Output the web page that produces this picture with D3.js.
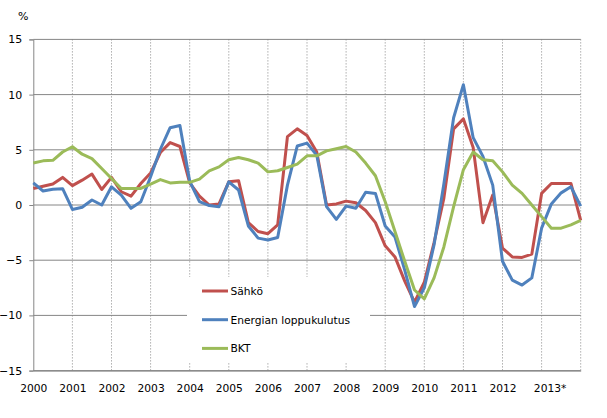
<!DOCTYPE html>
<html>
<head>
<meta charset="utf-8">
<script src="https://cdn.jsdelivr.net/npm/d3@7"></script>
<style>
  body { margin: 0; background: #fff; }
  svg { font-family: "DejaVu Sans", Verdana, sans-serif; }
</style>
</head>
<body>
<svg id="chart" width="607" height="418"></svg>
<script>
// quarterly values 2000Q1 .. 2014Q1, % change
const sahko = [1.5, 1.7, 1.9, 2.5, 1.75, 2.25, 2.8, 1.4, 2.5, 1.2, 0.8, 1.95, 2.9, 4.75, 5.65, 5.3,
  2.0, 0.8, 0.0, 0.1, 2.1, 2.2, -1.6, -2.4, -2.6, -1.8, 6.2, 6.9, 6.3, 4.8, 0.0, 0.1,
  0.35, 0.2, -0.5, -1.6, -3.7, -4.7, -6.9, -8.8, -7.0, -3.4, 0.6, 6.9, 7.8, 5.2, -1.6, 0.9,
  -3.9, -4.7, -4.75, -4.45, 1.05, 1.95, 1.95, 1.95, -1.4];
const energia = [2.0, 1.27, 1.42, 1.48, -0.4, -0.2, 0.45, 0.0, 1.65, 0.9, -0.3, 0.3, 2.56, 5.05, 7.0, 7.2,
  2.15, 0.3, -0.05, -0.15, 2.1, 1.36, -1.9, -3.0, -3.17, -2.95, 1.8, 5.34, 5.6, 4.5, -0.15, -1.3,
  -0.1, -0.3, 1.15, 1.05, -1.9, -2.9, -5.9, -9.2, -7.5, -3.6, 1.9, 7.9, 10.9, 6.1, 4.4, 1.8,
  -5.1, -6.8, -7.25, -6.6, -2.1, 0.1, 1.1, 1.65, -0.1];
const bkt = [3.8, 4.0, 4.05, 4.8, 5.28, 4.6, 4.2, 3.3, 2.4, 1.5, 1.5, 1.5, 1.9, 2.3, 2.0, 2.05,
  2.05, 2.35, 3.1, 3.45, 4.1, 4.3, 4.1, 3.8, 3.0, 3.1, 3.4, 3.7, 4.45, 4.45, 4.9, 5.1,
  5.3, 4.8, 3.8, 2.65, 0.3, -2.4, -5.1, -7.7, -8.5, -6.6, -3.8, -0.15, 3.2, 4.8, 4.1, 4.0,
  3.0, 1.8, 1.05, 0.0, -1.05, -2.1, -2.1, -1.8, -1.4];

const years = ["2000", "2001", "2002", "2003", "2004", "2005", "2006", "2007",
  "2008", "2009", "2010", "2011", "2012", "2013*"];
const yTicks = [-15, -10, -5, 0, 5, 10, 15];
const seriesNames = ["Sähkö", "Energian loppukulutus", "BKT"];
const seriesColors = ["#c0504d", "#4f81bd", "#9bbb59"];

const svg = d3.select("#chart");
const plot = {left: 33.3, right: 580.7, top: 39.4, bottom: 370.6};
const grid = "#868686";

const x = d3.scaleLinear().domain([0, 56]).range([plot.left, plot.right]);
const y = d3.scaleLinear().domain([-15, 15]).range([plot.bottom, plot.top]);
const yearIdx = years.map((d, i) => i * 4);

// horizontal gridlines
svg.append("g").selectAll("line").data(yTicks).enter().append("line")
  .attr("x1", plot.left).attr("x2", plot.right)
  .attr("y1", d => y(d)).attr("y2", d => y(d))
  .attr("stroke", grid).attr("stroke-width", 1);

// vertical dotted year lines
svg.append("g").selectAll("line").data(yearIdx.slice(1).concat([56])).enter().append("line")
  .attr("x1", d => x(d)).attr("x2", d => x(d))
  .attr("y1", plot.top).attr("y2", plot.bottom)
  .attr("stroke", grid).attr("stroke-width", 1)
  .attr("stroke-dasharray", "1,2");

// y axis
const yAxis = svg.append("g")
  .attr("transform", `translate(${plot.left},0)`)
  .call(d3.axisLeft(y).tickValues(yTicks).tickSize(4).tickPadding(7).tickFormat(d3.format("d")));
yAxis.select(".domain").attr("stroke", grid);
yAxis.selectAll(".tick line").attr("stroke", grid);
yAxis.selectAll("text").attr("font-size", "11px").attr("fill", "#000")
  .attr("font-family", "DejaVu Sans");

// x axis
const xAxis = svg.append("g")
  .attr("transform", `translate(0,${plot.bottom})`)
  .call(d3.axisBottom(x).tickValues(yearIdx).tickSize(0).tickPadding(14)
    .tickFormat((d, i) => years[i]));
xAxis.select(".domain").attr("stroke", grid);
xAxis.selectAll("text").attr("font-size", "10.7px").attr("fill", "#000")
  .attr("font-family", "DejaVu Sans")
  .attr("dx", (d, i) => i === years.length - 1 ? 8 : 0);

svg.append("text").attr("x", 18).attr("y", 20)
  .attr("font-size", "11px").text("%");

// legend box (covers gridlines)
svg.append("rect").attr("x", 187).attr("y", 277).attr("width", 183).attr("height", 86)
  .attr("fill", "#fff");

// lines
const line = d3.line().x((d, i) => x(i)).y(d => y(d));
[sahko, energia, bkt].forEach((s, k) => {
  svg.append("path").datum(s)
    .attr("d", line)
    .attr("fill", "none")
    .attr("stroke", seriesColors[k])
    .attr("stroke-width", 3)
    .attr("stroke-linejoin", "round");
});

// legend
const lg = svg.append("g").selectAll("g").data(seriesNames).enter().append("g")
  .attr("transform", (d, i) => `translate(0,${291 + i * 28.7})`);
lg.append("line").attr("x1", 202).attr("x2", 228).attr("y1", 0).attr("y2", 0)
  .attr("stroke", (d, i) => seriesColors[i]).attr("stroke-width", 3);
lg.append("text").attr("x", 230.5).attr("y", 4)
  .attr("font-size", "10.7px").text(d => d);
</script>
</body>
</html>
